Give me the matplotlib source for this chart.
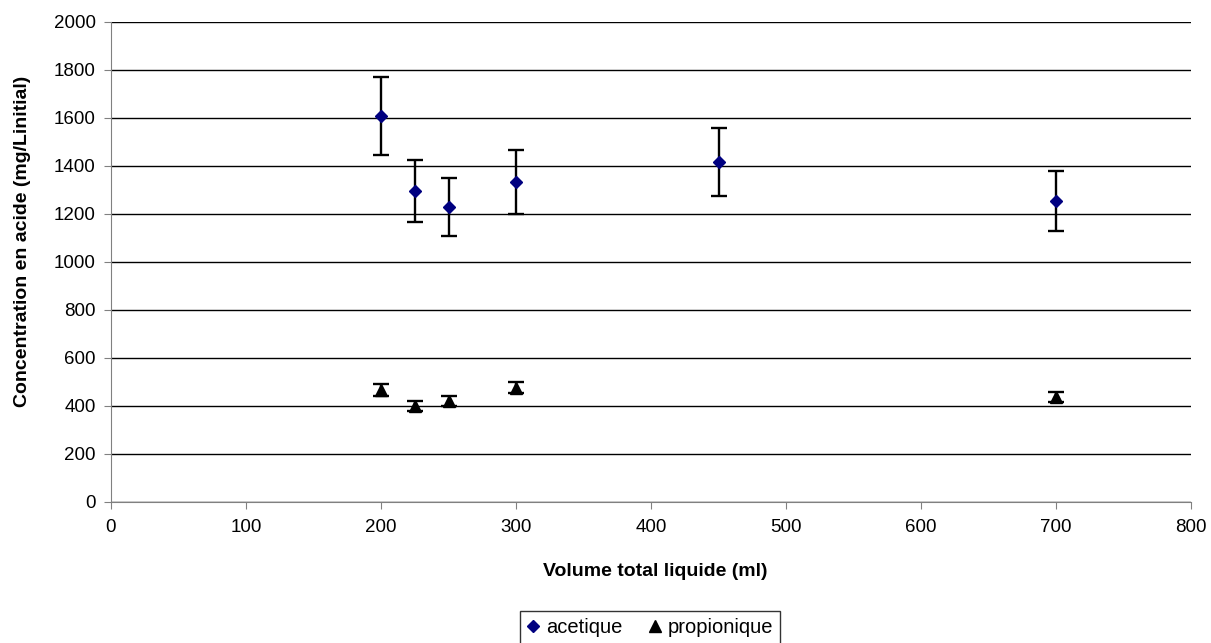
import matplotlib
matplotlib.use("Agg")
import matplotlib.pyplot as plt
from matplotlib.lines import Line2D
import numpy as np

plt.rcParams['font.family'] = ['Liberation Sans', 'DejaVu Sans']

# acetique
vol_acet = [200, 225, 250, 300, 450, 700]
conc_acet = [1608, 1296, 1229, 1333, 1418, 1255]
err_acet = [162, 130, 122, 134, 142, 125]

# propionique
vol_prop = [200, 225, 250, 300, 700]
conc_prop = [467, 400, 420, 476, 437]
err_prop = [24, 20, 20, 23, 22]

fig = plt.figure(figsize=(12.11, 6.43), dpi=100)
ax = fig.add_axes([111/1211, 1-502/643, 1080/1211, 480/643])

ax.errorbar(vol_acet, conc_acet, yerr=err_acet, fmt='D', color='#000080',
            ecolor='black', elinewidth=1.7, capsize=6, capthick=1.7,
            markersize=6, zorder=3)
ax.errorbar(vol_prop, conc_prop, yerr=err_prop, fmt='^', color='black',
            ecolor='black', elinewidth=1.7, capsize=6, capthick=1.7,
            markersize=8, zorder=3)

ax.set_xlim(0, 800)
ax.set_ylim(0, 2000)
ax.set_xticks(np.arange(0, 801, 100))
ax.set_yticks(np.arange(0, 2001, 200))
ax.yaxis.grid(True, color='black', linewidth=1)
ax.set_axisbelow(True)

for s in ['top', 'right']:
    ax.spines[s].set_visible(False)
for s in ['left', 'bottom']:
    ax.spines[s].set_color('#808080')
ax.tick_params(direction='out', length=5, color='#808080', labelsize=13.5)
ax.tick_params(axis='x', pad=7)
ax.tick_params(axis='y', pad=6)

ax.set_xlabel('Volume total liquide (ml)', fontsize=14, fontweight='bold')
ax.xaxis.set_label_coords(0.504, -(572-502)/480, transform=ax.transAxes)
ax.set_ylabel('Concentration en acide (mg/Linitial)', fontsize=14, fontweight='bold')
ax.yaxis.set_label_coords(-(111-23)/1080, (502-241)/480, transform=ax.transAxes)
ax.xaxis.label.set_va('center')
ax.yaxis.label.set_va('center')

handles = [
    Line2D([], [], linestyle='none', marker='D', color='#000080', markersize=6),
    Line2D([], [], linestyle='none', marker='^', color='black', markersize=8),
]
leg = fig.legend(handles, ['acetique', 'propionique'], loc='upper center',
                 bbox_to_anchor=(650/1211, 1-611/643), ncol=2,
                 fontsize=14.5, frameon=True, fancybox=False, edgecolor='black',
                 handlelength=0.6, handletextpad=0.35, columnspacing=1.3,
                 borderpad=0.35, borderaxespad=0)
leg.get_frame().set_linewidth(1)

fig.savefig('out.png', dpi=100)
